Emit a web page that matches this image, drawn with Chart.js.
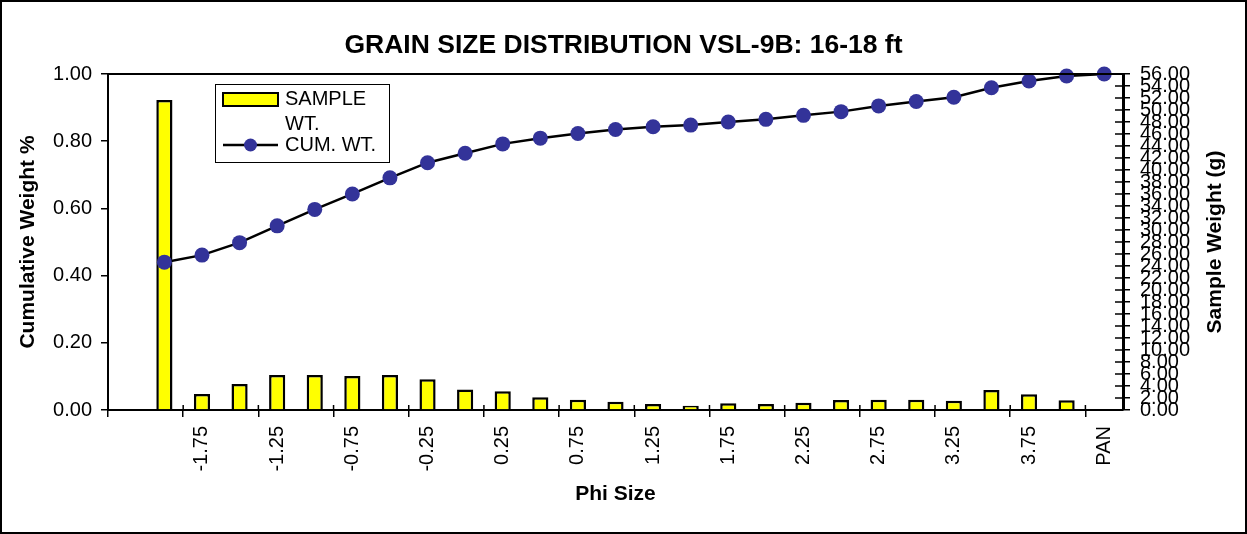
<!DOCTYPE html>
<html>
<head>
<meta charset="utf-8">
<title>Grain size distribution VSL-9B</title>
<script src="https://cdn.jsdelivr.net/npm/chart.js@4.4.0/dist/chart.umd.min.js"></script>
<style>
  body { margin: 0; background: #fff; }
  canvas { display: block; }
</style>
</head>
<body>
<canvas id="myChart" width="1247" height="534"></canvas>
<script>
// phi size classes, first slot is left empty like in the sheet
const phiLabels = ['', '-2.00', '-1.75', '-1.50', '-1.25', '-1.00', '-0.75', '-0.50', '-0.25',
  '0.00', '0.25', '0.50', '0.75', '1.00', '1.25', '1.50', '1.75', '2.00', '2.25', '2.50',
  '2.75', '3.00', '3.25', '3.50', '3.75', '4.00', 'PAN'];

// sample weight per class (g) - right axis
const sampleWt = [null, 51.67, 2.67, 4.33, 5.83, 5.83, 5.67, 5.83, 5.11,
  3.42, 3.11, 2.14, 1.72, 1.39, 1.00, 0.72, 1.11, 1.00, 1.22, 1.67,
  1.72, 1.72, 1.56, 3.33, 2.61, 1.61, null];

// cumulative weight fraction - left axis
const cumWt = [null, 0.440, 0.461, 0.498, 0.548, 0.597, 0.643, 0.691, 0.736,
  0.764, 0.792, 0.809, 0.823, 0.835, 0.843, 0.848, 0.857, 0.865, 0.877, 0.888,
  0.905, 0.918, 0.931, 0.959, 0.979, 0.994, 1.000];

const chartTitle = 'GRAIN SIZE DISTRIBUTION VSL-9B: 16-18 ft';
const FONT = '"Liberation Sans", Arial, Helvetica, sans-serif';

Chart.defaults.font.family = FONT;
Chart.defaults.color = '#000';

// excel-ish bits chart.js doesn't do: plot frame, inner tick halves, right title, legend box
const extras = {
  id: 'extras',
  beforeDraw(chart) {
    const c = chart.ctx;
    c.save();
    c.fillStyle = '#fff';
    c.fillRect(0, 0, chart.width, chart.height);
    c.restore();
  },
  afterDraw(chart) {
    const c = chart.ctx;
    const a = chart.chartArea;
    c.save();
    c.strokeStyle = '#000';

    // top edge of the plot box
    c.lineWidth = 2;
    c.beginPath();
    c.moveTo(a.left, a.top);
    c.lineTo(a.right, a.top);
    c.stroke();

    // tick marks crossing the axes
    const xs = chart.scales.x;
    const half = (xs.getPixelForTick(1) - xs.getPixelForTick(0)) / 2;
    c.lineWidth = 1.5;
    c.beginPath();
    for (let i = 0; i < phiLabels.length; i += 2) {
      const px = xs.getPixelForTick(i) - half;
      c.moveTo(px, a.bottom);
      c.lineTo(px, a.bottom - 5);
    }
    const ys = chart.scales.y1;
    ys.ticks.forEach(t => {
      const py = ys.getPixelForValue(t.value);
      c.moveTo(a.right - 8, py);
      c.lineTo(a.right, py);
    });
    c.stroke();

    // right axis title, reads bottom to top like the left one
    c.fillStyle = '#000';
    c.font = 'bold 21px ' + FONT;
    c.textAlign = 'center';
    c.textBaseline = 'middle';
    c.translate(a.right + 92, (a.top + a.bottom) / 2);
    c.rotate(-Math.PI / 2);
    c.fillText('Sample Weight (g)', 0, 0);
    c.setTransform(1, 0, 0, 1, 0, 0);

    drawLegend(chart);

    // outer border
    c.lineWidth = 2;
    c.strokeStyle = '#000';
    c.strokeRect(1, 1, chart.width - 2, chart.height - 2);
    c.restore();
  }
};

function drawLegend(chart) {
  const c = chart.ctx;
  const a = chart.chartArea;
  const line = chart.data.datasets[0];
  const bar = chart.data.datasets[1];
  const bx = a.left + 107, by = a.top + 10, bw = 174, bh = 78;

  c.fillStyle = '#fff';
  c.fillRect(bx, by, bw, bh);
  c.lineWidth = 1;
  c.strokeStyle = '#000';
  c.strokeRect(bx + 0.5, by + 0.5, bw, bh);

  c.font = '20px ' + FONT;
  c.textAlign = 'left';
  c.textBaseline = 'middle';

  // bar swatch + wrapped label
  c.fillStyle = bar.backgroundColor;
  c.fillRect(bx + 8, by + 9, 55, 13);
  c.lineWidth = 2;
  c.strokeRect(bx + 8, by + 9, 55, 13);
  c.fillStyle = '#000';
  const words = bar.label.split(' ');
  let rows = [], cur = '';
  words.forEach(w => {
    const t = cur ? cur + ' ' + w : w;
    if (cur && c.measureText(t).width > 100) { rows.push(cur); cur = w; } else cur = t;
  });
  rows.push(cur);
  rows.forEach((r, i) => c.fillText(r, bx + 70, by + 15 + i * 25));

  // line swatch
  const ly = by + 61;
  c.strokeStyle = line.borderColor;
  c.lineWidth = 2.5;
  c.beginPath();
  c.moveTo(bx + 8, ly);
  c.lineTo(bx + 63, ly);
  c.stroke();
  c.fillStyle = line.pointBackgroundColor;
  c.beginPath();
  c.arc(bx + 35.5, ly, 6.5, 0, Math.PI * 2);
  c.fill();
  c.fillStyle = '#000';
  c.fillText(line.label, bx + 70, ly);
}

var ctx = document.getElementById('myChart');
new Chart(ctx, {
  type: 'bar',
  data: {
    labels: phiLabels,
    datasets: [
      {
        type: 'line',
        label: 'CUM. WT.',
        data: cumWt,
        yAxisID: 'y',
        borderColor: '#000',
        borderWidth: 2.5,
        pointRadius: 7.5,
        pointBackgroundColor: '#333399',
        pointBorderColor: '#333399',
        pointBorderWidth: 0,
        tension: 0,
        clip: false,
        order: 0
      },
      {
        type: 'bar',
        label: 'SAMPLE WT.',
        data: sampleWt,
        yAxisID: 'y1',
        backgroundColor: '#ffff00',
        borderColor: '#000',
        borderWidth: 2.5,
        barPercentage: 0.43,
        categoryPercentage: 1,
        order: 1
      }
    ]
  },
  options: {
    responsive: false,
    animation: false,
    layout: { padding: 0 },
    plugins: {
      legend: { display: false },
      tooltip: { enabled: false },
      title: {
        display: true,
        text: chartTitle,
        color: '#000',
        font: { size: 26.5, weight: 'bold' },
        padding: { top: 30, bottom: 12.2 }
      }
    },
    scales: {
      x: {
        grid: {
          drawOnChartArea: false,
          tickLength: 7,
          lineWidth: 1.5,
          color: c => (c.index % 2 === 0 ? '#000' : 'rgba(0,0,0,0)')
        },
        border: { color: '#000', width: 2 },
        ticks: {
          autoSkip: false,
          minRotation: 90,
          maxRotation: 90,
          padding: 9,
          font: { size: 20 },
          callback: function (v, i) { return i % 2 === 0 ? this.getLabelForValue(v) : ''; }
        },
        title: {
          display: true,
          text: 'Phi Size',
          font: { size: 21, weight: 'bold' },
          padding: { top: 0, bottom: 27.4 }
        },
        afterFit: s => { s.height = 124; }
      },
      y: {
        position: 'left',
        min: 0,
        max: 1,
        grid: { drawOnChartArea: false, tickLength: 7, color: '#000', lineWidth: 1.5 },
        border: { color: '#000', width: 2 },
        ticks: { stepSize: 0.2, padding: 9, font: { size: 20 }, callback: v => v.toFixed(2) },
        title: {
          display: true,
          text: 'Cumulative Weight %',
          font: { size: 21, weight: 'bold' },
          padding: { top: 16, bottom: 0 }
        },
        afterFit: s => { s.width = 108; }
      },
      y1: {
        position: 'right',
        min: 0,
        max: 56,
        grid: { drawOnChartArea: false, tickLength: 7, color: '#000', lineWidth: 1.5 },
        border: { color: '#000', width: 3 },
        ticks: { stepSize: 2, autoSkip: false, padding: 10, font: { size: 20 }, callback: v => v.toFixed(2) },
        afterFit: s => { s.width = 124; }
      }
    }
  },
  plugins: [extras]
});
</script>
</body>
</html>
